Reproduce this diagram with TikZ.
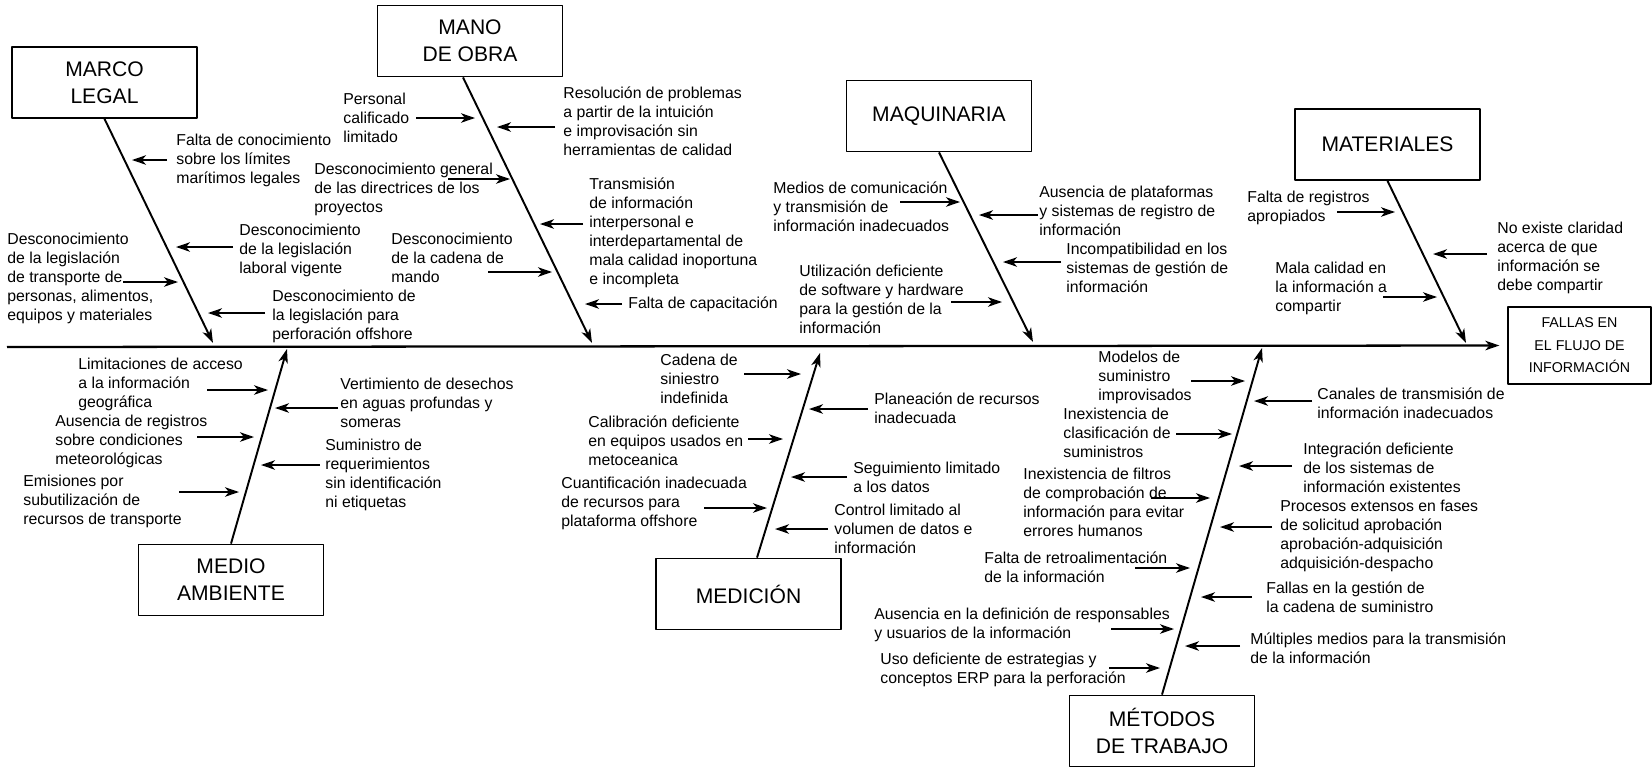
\documentclass[tikz,border=0pt]{standalone}
\usepackage{fontspec}
\setmainfont{Liberation Sans}
\usetikzlibrary{arrows.meta,calc}

\begin{document}
\begin{tikzpicture}[x=0.2mm, y=-0.2mm, line join=round,
		tip/.style={-{Stealth[length=2.8mm, width=1.9mm, inset=0.8mm]}},
		bone/.style={tip, line width=1.1pt},
		cause/.style={tip, line width=0.9pt},
		catbox/.style={draw, line width=1pt, minimum width=37mm, minimum height=14.2mm, align=center, font=\fontsize{12}{15.4}\selectfont},
		effbox/.style={draw, line width=0.7pt, minimum width=28.6mm, minimum height=15.4mm, align=center, font=\fontsize{8.1}{12.8}\selectfont},
		lbl/.style={anchor=west, align=left, inner sep=0pt, font=\fontsize{9}{10.8}\selectfont}]
		
		\useasboundingbox (0,0) rectangle (1652,767);
		
		% 1. Category boxes and effect box
		\node[catbox] (marco) at (104.5,82.5) {MARCO\\LEGAL};
		\node[catbox] (mano) at (470,41) {MANO\\DE OBRA};
		\node[catbox] (maq) at (939,116) {MAQUINARIA};
		\node[catbox] (mat) at (1387.5,144.5) {MATERIALES};
		\node[catbox] (medio) at (231,580) {MEDIO\\AMBIENTE};
		\node[catbox] (medic) at (748.5,594) {MEDICIÓN};
		\node[catbox] (metod) at (1162,731) {MÉTODOS\\DE TRABAJO};
		\node[effbox] (fallas) at (1579.5,345.5) {FALLAS EN\\EL FLUJO DE\\INFORMACIÓN};
		
		% 2. Spine and bones
		\coordinate (S) at (7,347);
		\coordinate (marco-tip) at (213,343);
		\coordinate (mano-tip) at (592,343);
		\coordinate (maq-tip) at (1033,342);
		\coordinate (mat-tip) at (1466,343);
		\coordinate (medio-tip) at (287,349);
		\coordinate (medic-tip) at (820,353);
		\coordinate (metod-tip) at (1262,348);
		
		\draw[bone, line width=1.3pt] (S) -- ([xshift=-1.6mm]fallas.west);
		\draw[bone] (marco.south) -- (marco-tip);
		\draw[bone] ([xshift=-1.4mm]mano.south) -- (mano-tip);
		\draw[bone] (maq.south) -- (maq-tip);
		\draw[bone] (mat.south) -- (mat-tip);
		\draw[bone] (medio.north) -- (medio-tip);
		\draw[bone] ([xshift=1.7mm]medic.north) -- (medic-tip);
		\draw[bone] (metod.north) -- (metod-tip);
		
		% 3. Marco legal
		\node[lbl] (ml1) at (176,160) {Falta de conocimiento\\sobre los límites\\marítimos legales};
		\node[lbl] (ml2) at (239,250) {Desconocimiento\\de la legislación\\laboral vigente};
		\node[lbl] (ml3) at (7,278.5) {Desconocimiento\\de la legislación\\de transporte de\\personas, alimentos,\\equipos y materiales};
		\node[lbl] (ml4) at (272,316) {Desconocimiento de\\la legislación para\\perforación offshore};
		\coordinate (ml1a) at (167,160); \coordinate (ml1b) at (132,160);
		\coordinate (ml2a) at (233,247); \coordinate (ml2b) at (176,247);
		\coordinate (ml3a) at (123,282); \coordinate (ml3b) at (178,282);
		\coordinate (ml4a) at (265,313); \coordinate (ml4b) at (208,313);
		\draw[cause] (ml1a) -- (ml1b);
		\draw[cause] (ml2a) -- (ml2b);
		\draw[cause] (ml3a) -- (ml3b);
		\draw[cause] (ml4a) -- (ml4b);
		
		% 4. Mano de obra
		\node[lbl] (mo1) at (343,118) {Personal\\calificado\\limitado};
		\node[lbl] (mo2) at (563,121.5) {Resolución de problemas\\a partir de la intuición\\e improvisación sin\\herramientas de calidad};
		\node[lbl] (mo3) at (314,189.5) {Desconocimiento general\\de las directrices de los\\proyectos};
		\node[lbl] (mo4) at (589,232.5) {Transmisión\\de información\\interpersonal e\\interdepartamental de\\mala calidad inoportuna\\e incompleta};
		\node[lbl] (mo5) at (391,257.5) {Desconocimiento\\de la cadena de\\mando};
		\node[lbl] (mo6) at (628,304) {Falta de capacitación};
		\coordinate (mo1a) at (416,118); \coordinate (mo1b) at (475,118);
		\coordinate (mo2a) at (555,127); \coordinate (mo2b) at (497,127);
		\coordinate (mo3a) at (448,179); \coordinate (mo3b) at (510,179);
		\coordinate (mo4a) at (583,224); \coordinate (mo4b) at (540,224);
		\coordinate (mo5a) at (488,272); \coordinate (mo5b) at (552,272);
		\coordinate (mo6a) at (622,304); \coordinate (mo6b) at (585,304);
		\draw[cause] (mo1a) -- (mo1b);
		\draw[cause] (mo2a) -- (mo2b);
		\draw[cause] (mo3a) -- (mo3b);
		\draw[cause] (mo4a) -- (mo4b);
		\draw[cause] (mo5a) -- (mo5b);
		\draw[cause] (mo6a) -- (mo6b);
		
		% 5. Maquinaria
		\node[lbl] (mq1) at (773,207) {Medios de comunicación\\y transmisión de\\información inadecuados};
		\node[lbl] (mq2) at (1039,210.5) {Ausencia de plataformas\\y sistemas de registro de\\información};
		\node[lbl] (mq3) at (1066,267.5) {Incompatibilidad en los\\sistemas de gestión de\\información};
		\node[lbl] (mq4) at (799,299.5) {Utilización deficiente\\de software y hardware\\para la gestión de la\\información};
		\coordinate (mq1a) at (900,202); \coordinate (mq1b) at (960,202);
		\coordinate (mq2a) at (1038,215); \coordinate (mq2b) at (979,215);
		\coordinate (mq3a) at (1061,262); \coordinate (mq3b) at (1003,262);
		\coordinate (mq4a) at (951,302); \coordinate (mq4b) at (1002,302);
		\draw[cause] (mq1a) -- (mq1b);
		\draw[cause] (mq2a) -- (mq2b);
		\draw[cause] (mq3a) -- (mq3b);
		\draw[cause] (mq4a) -- (mq4b);
		
		% 6. Materiales
		\node[lbl] (mt1) at (1247,207.5) {Falta de registros\\apropiados};
		\node[lbl] (mt2) at (1497,258) {No existe claridad\\acerca de que\\información se\\debe compartir};
		\node[lbl] (mt3) at (1275,288) {Mala calidad en\\la información a\\compartir};
		\coordinate (mt1a) at (1337,212); \coordinate (mt1b) at (1395,212);
		\coordinate (mt2a) at (1487,254); \coordinate (mt2b) at (1433,254);
		\coordinate (mt3a) at (1383,297); \coordinate (mt3b) at (1437,297);
		\draw[cause] (mt1a) -- (mt1b);
		\draw[cause] (mt2a) -- (mt2b);
		\draw[cause] (mt3a) -- (mt3b);
		
		% 7. Medio ambiente
		\node[lbl] (ma1) at (78,384.5) {Limitaciones de acceso\\a la información\\geográfica};
		\node[lbl] (ma2) at (55,441) {Ausencia de registros\\sobre condiciones\\meteorológicas};
		\node[lbl] (ma3) at (23,501) {Emisiones por\\subutilización de\\recursos de transporte};
		\node[lbl] (ma4) at (340,403) {Vertimiento de desechos\\en aguas profundas y\\someras};
		\node[lbl] (ma5) at (325,474.5) {Suministro de\\requerimientos\\sin identificación\\ni etiquetas};
		\coordinate (ma1a) at (207,390); \coordinate (ma1b) at (268,390);
		\coordinate (ma2a) at (197,437); \coordinate (ma2b) at (254,437);
		\coordinate (ma3a) at (179,492); \coordinate (ma3b) at (239,492);
		\coordinate (ma4a) at (338,408); \coordinate (ma4b) at (275,408);
		\coordinate (ma5a) at (320,465); \coordinate (ma5b) at (261,465);
		\draw[cause] (ma1a) -- (ma1b);
		\draw[cause] (ma2a) -- (ma2b);
		\draw[cause] (ma3a) -- (ma3b);
		\draw[cause] (ma4a) -- (ma4b);
		\draw[cause] (ma5a) -- (ma5b);
		
		% 8. Medición
		\node[lbl] (me1) at (660,378.5) {Cadena de\\siniestro\\indefinida};
		\node[lbl] (me2) at (588,441) {Calibración deficiente\\en equipos usados en\\metoceanica};
		\node[lbl] (me3) at (561,503.5) {Cuantificación inadecuada\\de recursos para\\plataforma offshore};
		\node[lbl] (me4) at (874,408.5) {Planeación de recursos\\inadecuada};
		\node[lbl] (me5) at (853,477.5) {Seguimiento limitado\\a los datos};
		\node[lbl] (me6) at (834,529) {Control limitado al\\volumen de datos e\\información};
		\coordinate (me1a) at (744,374); \coordinate (me1b) at (801,374);
		\coordinate (me2a) at (748,439); \coordinate (me2b) at (783,439);
		\coordinate (me3a) at (704,508); \coordinate (me3b) at (767,508);
		\coordinate (me4a) at (868,409); \coordinate (me4b) at (809,409);
		\coordinate (me5a) at (847,477); \coordinate (me5b) at (791,477);
		\coordinate (me6a) at (828,529); \coordinate (me6b) at (775,529);
		\draw[cause] (me1a) -- (me1b);
		\draw[cause] (me2a) -- (me2b);
		\draw[cause] (me3a) -- (me3b);
		\draw[cause] (me4a) -- (me4b);
		\draw[cause] (me5a) -- (me5b);
		\draw[cause] (me6a) -- (me6b);
		
		% 9. Métodos de trabajo
		\node[lbl] (mw1) at (1098,377.5) {Modelos de\\suministro\\improvisados};
		\node[lbl] (mw2) at (1063,432.5) {Inexistencia de\\clasificación de\\suministros};
		\node[lbl] (mw3) at (1023,502.5) {Inexistencia de filtros\\de comprobación de\\información para evitar\\errores humanos};
		\node[lbl] (mw4) at (984,567.5) {Falta de retroalimentación\\de la información};
		\node[lbl] (mw5) at (874,624.5) {Ausencia en la definición de responsables\\y usuarios de la información};
		\node[lbl] (mw6) at (880,670) {Uso deficiente de estrategias y\\conceptos ERP para la perforación};
		\node[lbl] (mw7) at (1317,403.5) {Canales de transmisión de\\información inadecuados};
		\node[lbl] (mw8) at (1303,467.5) {Integración deficiente\\de los sistemas de\\información existentes};
		\node[lbl] (mw9) at (1280,535.5) {Procesos extensos en fases\\de solicitud aprobación\\aprobación-adquisición\\adquisición-despacho};
		\node[lbl] (mw10) at (1266,597.5) {Fallas en la gestión de\\la cadena de suministro};
		\node[lbl] (mw11) at (1250,648) {Múltiples medios para la transmisión\\de la información};
		\coordinate (mw1a) at (1191,381); \coordinate (mw1b) at (1245,381);
		\coordinate (mw2a) at (1176,434); \coordinate (mw2b) at (1232,434);
		\coordinate (mw3a) at (1151,498); \coordinate (mw3b) at (1210,498);
		\coordinate (mw4a) at (1135,568); \coordinate (mw4b) at (1190,568);
		\coordinate (mw5a) at (1111,629); \coordinate (mw5b) at (1174,629);
		\coordinate (mw6a) at (1109,668); \coordinate (mw6b) at (1160,668);
		\coordinate (mw7a) at (1312,401); \coordinate (mw7b) at (1254,401);
		\coordinate (mw8a) at (1292,466); \coordinate (mw8b) at (1239,466);
		\coordinate (mw9a) at (1272,527); \coordinate (mw9b) at (1220,527);
		\coordinate (mw10a) at (1252,597); \coordinate (mw10b) at (1201,597);
		\coordinate (mw11a) at (1240,646); \coordinate (mw11b) at (1185,646);
		\draw[cause] (mw1a) -- (mw1b);
		\draw[cause] (mw2a) -- (mw2b);
		\draw[cause] (mw3a) -- (mw3b);
		\draw[cause] (mw4a) -- (mw4b);
		\draw[cause] (mw5a) -- (mw5b);
		\draw[cause] (mw6a) -- (mw6b);
		\draw[cause] (mw7a) -- (mw7b);
		\draw[cause] (mw8a) -- (mw8b);
		\draw[cause] (mw9a) -- (mw9b);
		\draw[cause] (mw10a) -- (mw10b);
		\draw[cause] (mw11a) -- (mw11b);
		
	\end{tikzpicture}
\end{document}
